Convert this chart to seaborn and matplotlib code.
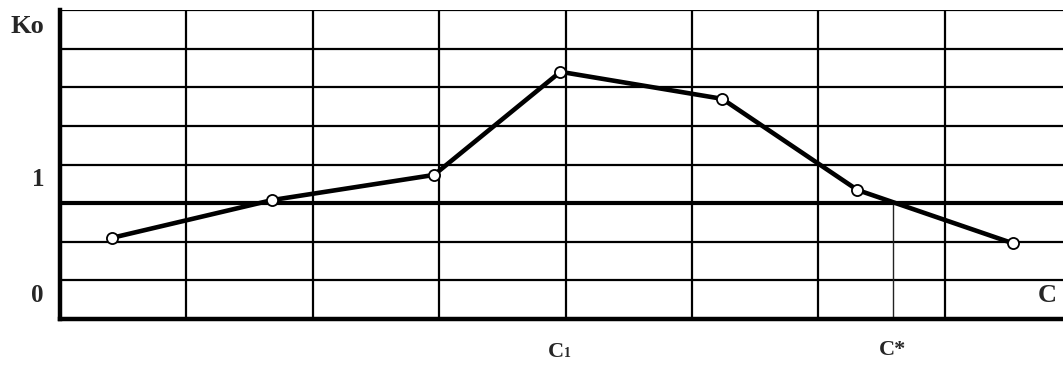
import numpy as np
import pandas as pd
import matplotlib
matplotlib.use('Agg')
import matplotlib.pyplot as plt
import seaborn as sns

# points of the curve, in grid cells (x: columns, y: rows)
c_values = [0.41, 1.68, 2.96, 3.96, 5.24, 6.31, 7.54]
ko_values = [2.10, 3.08, 3.73, 6.40, 5.70, 3.34, 1.96]
level_one = 3.0
c_star = 6.59

sns.set_style('white')
plt.rcParams['font.family'] = ['Liberation Serif', 'DejaVu Serif']
plt.rcParams['font.weight'] = 'bold'

df = pd.DataFrame({'C': c_values, 'Ko': ko_values})

fig = plt.figure(figsize=(10.63, 3.65), dpi=100)
ax = fig.add_axes([60 / 1063, 46 / 365, 1011 / 1063, 309 / 365])

ax.set_xlim(0, 8)
ax.set_ylim(0, 8)

# grid
for yy in range(1, 9):
    ax.axhline(yy, color='black', lw=1.6, zorder=1)
for xx in range(1, 8):
    ax.axvline(xx, color='black', lw=1.6, zorder=1)
ax.axhline(level_one, color='black', lw=3, zorder=2)
ax.plot([c_star, c_star], [0, level_one], color='#222222', lw=1.0, zorder=2)

sns.lineplot(data=df, x='C', y='Ko', ax=ax, color='black', lw=3.3,
             marker='o', markersize=8, markerfacecolor='white',
             markeredgecolor='black', markeredgewidth=1.3, zorder=5,
             sort=False)

for s in ['top', 'right']:
    ax.spines[s].set_visible(False)
ax.spines['left'].set_linewidth(3.2)
ax.spines['bottom'].set_linewidth(3.2)
ax.spines['left'].set_color('black')
ax.spines['bottom'].set_color('black')
ax.set_xticks([])
ax.set_yticks([])
ax.set_xlabel('')
ax.set_ylabel('')

ax.text(-0.26, 7.56, 'Ko', fontsize=19, fontweight='bold', ha='center', va='center', clip_on=False)
ax.text(-0.17, 3.6, '1', fontsize=18, fontweight='bold', ha='center', va='center', clip_on=False)
ax.text(-0.18, 0.6, '0', fontsize=18, fontweight='bold', ha='center', va='center', clip_on=False)
ax.text(7.81, 0.62, 'C', fontsize=19, fontweight='bold', ha='center', va='center', clip_on=False)
ax.text(3.99, -0.85, 'C', fontsize=16, fontweight='bold', ha='right', va='center', clip_on=False)
ax.text(3.99, -0.9, '1', fontsize=10, fontweight='bold', ha='left', va='center', clip_on=False)
ax.text(c_star, -0.8, 'C*', fontsize=16, fontweight='bold', ha='center', va='center', clip_on=False)

fig.savefig('out.png', dpi=100)
